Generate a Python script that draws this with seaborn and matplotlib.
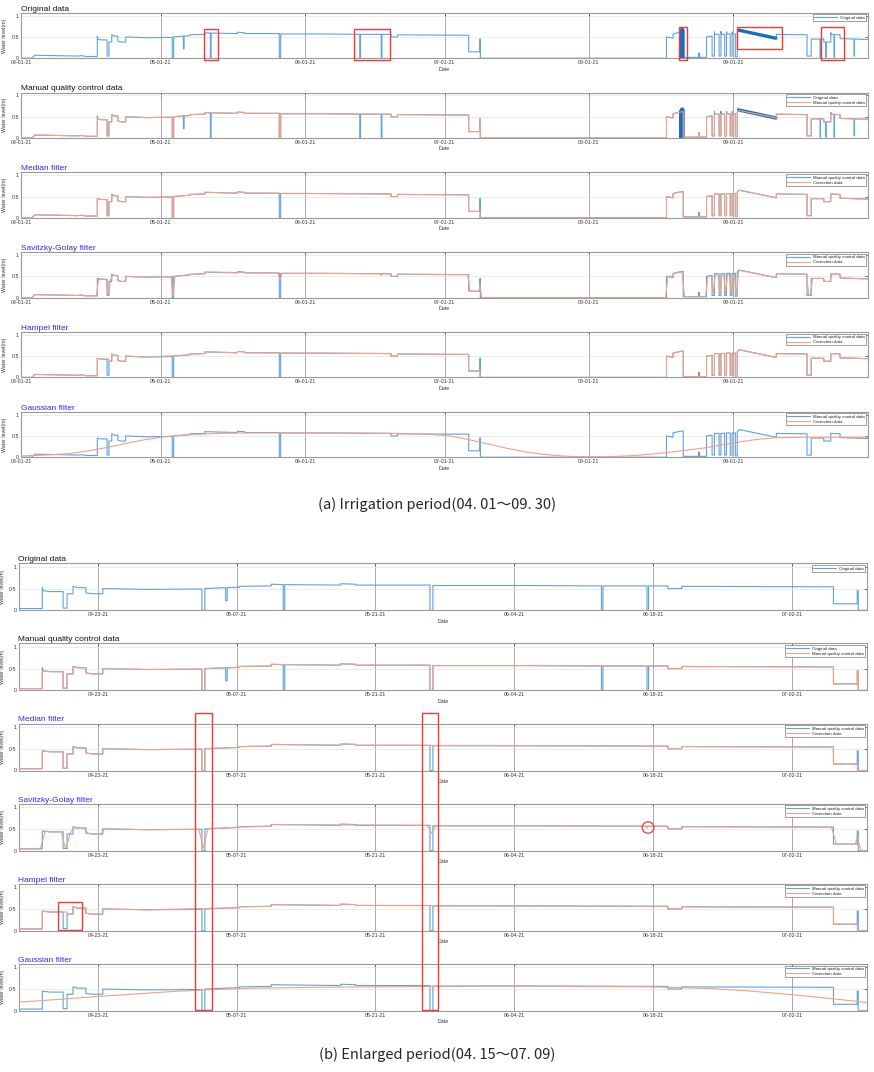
import numpy as np
import pandas as pd
import matplotlib
matplotlib.use("Agg")
import matplotlib.pyplot as plt
import matplotlib.dates as mdates
from matplotlib.patches import Rectangle, Ellipse
from matplotlib.transforms import blended_transform_factory
import seaborn as sns

sns.set_style("white")
plt.rcParams["font.family"] = ["Liberation Sans", "DejaVu Sans"]

START = pd.Timestamp("2021-04-01")

# ---------------- data (days since 2021-04-01, water level in m) ----------------
ORIG_T = [0, 2.3, 3.0, 8, 12, 13, 14, 16.4, 16.4, 16.5, 17.2, 18.5, 18.5, 18.9, 18.9, 19.5, 19.5, 20.0,
          20.8, 20.8, 21.5, 22.5, 22.5, 27, 32.5, 32.5, 32.8, 32.8, 34.9, 34.9, 35.05, 35.05, 36.3, 36.3,
          39.5, 39.5, 40.7, 40.7, 40.85, 40.85, 46.5, 46.5, 48, 48, 55.5, 55.5, 55.8, 55.8, 65, 72.8,
          72.8, 72.95, 72.95, 77.4, 77.4, 77.55, 77.55, 79.5, 79.5, 80.9, 80.9, 96.2, 96.2, 98.6, 98.6,
          98.7, 98.7, 138.7, 138.7, 140.1, 140.1, 141.2, 142.3, 142.3, 145.6, 145.6, 145.8, 145.8, 147.3,
          147.3, 148.5, 148.5, 149.0, 149.0, 149.1, 150.0, 150.0, 150.4, 150.4, 150.5, 151.2, 151.2,
          151.6, 151.6, 151.7, 152.4, 152.4, 152.8, 152.8, 152.9, 153.5, 153.5, 153.9, 153.9, 154.3,
          162.3, 162.3, 168.9, 168.9, 169.8, 169.8, 171.7, 171.7, 171.8, 171.8, 172.5, 172.5, 172.9,
          172.9, 173.0, 173.0, 174.0, 174.0, 174.2, 174.7, 174.7, 174.8, 174.8, 176.0, 176.0, 179.0,
          179.0, 179.1, 179.1, 182]
ORIG_V = [0.0, 0.0, 0.07, 0.06, 0.05, 0.06, 0.04, 0.04, 0.52, 0.45, 0.43, 0.43, 0.05, 0.05, 0.38, 0.38,
          0.55, 0.52, 0.52, 0.40, 0.38, 0.38, 0.50, 0.48, 0.49, 0.0, 0.0, 0.50, 0.52, 0.22, 0.22, 0.52,
          0.53, 0.55, 0.56, 0.60, 0.59, 0.0, 0.0, 0.59, 0.58, 0.61, 0.60, 0.58, 0.58, 0.0, 0.0, 0.57,
          0.57, 0.56, 0.0, 0.0, 0.56, 0.56, 0.0, 0.0, 0.56, 0.56, 0.50, 0.50, 0.55, 0.54, 0.15, 0.15,
          0.45, 0.45, 0.0, 0.0, 0.50, 0.47, 0.57, 0.60, 0.62, 0.02, 0.02, 0.12, 0.12, 0.02, 0.02, 0.50,
          0.52, 0.05, 0.05, 0.62, 0.56, 0.56, 0.05, 0.05, 0.63, 0.56, 0.56, 0.05, 0.05, 0.62, 0.57, 0.57,
          0.05, 0.05, 0.62, 0.57, 0.57, 0.03, 0.03, 0.60, 0.65, 0.47, 0.56, 0.55, 0.05, 0.05, 0.45, 0.45,
          0.02, 0.02, 0.45, 0.45, 0.38, 0.38, 0.02, 0.02, 0.38, 0.38, 0.60, 0.56, 0.56, 0.02, 0.02, 0.55,
          0.55, 0.46, 0.45, 0.05, 0.05, 0.45, 0.44]

# dense sensor-noise stretches of the original record
NOISE1_T = [141.6, 141.6, 141.8, 141.8, 142.2, 142.2, 142.4, 142.4]
NOISE1_V = [0.64, 0.0, 0.0, 0.68, 0.70, 0.0, 0.0, 0.66]
NOISE2_T = [154.2, 162.2]
NOISE2_V = [0.66, 0.47]

QC_T = [0, 2.3, 3.0, 8, 12, 13, 14, 16.4, 16.4, 17.2, 18.5, 18.5, 18.9, 18.9, 19.5, 19.5, 20.0, 20.8,
        20.8, 21.5, 22.5, 22.5, 27, 32.5, 32.5, 32.8, 32.8, 34.9, 36.3, 36.3, 39.5, 39.5, 46.5, 46.5,
        48, 48, 55.5, 55.5, 55.8, 55.8, 65, 79.5, 79.5, 80.9, 80.9, 96.2, 96.2, 98.6, 98.6, 98.7, 98.7,
        138.7, 138.7, 140.1, 140.1, 141.2, 142.3, 142.3, 145.6, 145.6, 145.8, 145.8, 147.3, 147.3,
        148.5, 148.5, 149.0, 149.0, 150.0, 150.0, 150.4, 150.4, 151.2, 151.2, 151.6, 151.6, 152.4,
        152.4, 152.8, 152.8, 153.5, 153.5, 153.9, 153.9, 154.3, 162.3, 162.3, 168.9, 168.9, 169.8,
        169.8, 172.5, 172.5, 174.0, 174.0, 176.0, 176.0, 182]
QC_V = [0.0, 0.0, 0.07, 0.06, 0.05, 0.06, 0.04, 0.04, 0.45, 0.43, 0.43, 0.05, 0.05, 0.38, 0.38, 0.55,
        0.52, 0.52, 0.40, 0.38, 0.38, 0.50, 0.48, 0.49, 0.0, 0.0, 0.50, 0.52, 0.53, 0.55, 0.56, 0.60,
        0.58, 0.61, 0.60, 0.58, 0.58, 0.0, 0.0, 0.57, 0.57, 0.56, 0.50, 0.50, 0.55, 0.54, 0.15, 0.15,
        0.45, 0.45, 0.0, 0.0, 0.50, 0.47, 0.57, 0.60, 0.62, 0.02, 0.02, 0.12, 0.12, 0.02, 0.02, 0.50,
        0.52, 0.05, 0.05, 0.56, 0.56, 0.05, 0.05, 0.56, 0.56, 0.05, 0.05, 0.57, 0.57, 0.05, 0.05, 0.57,
        0.57, 0.03, 0.03, 0.60, 0.65, 0.47, 0.56, 0.55, 0.05, 0.05, 0.45, 0.45, 0.38, 0.38, 0.56, 0.55,
        0.46, 0.44]

MED_T = [0, 2.3, 3.0, 8, 12, 13, 14, 16.4, 16.4, 17.2, 18.5, 18.5, 18.9, 18.9, 19.5, 19.5, 20.8,
         20.8, 21.5, 22.5, 22.5, 27, 32.5, 32.5, 32.8, 32.8, 34.9, 36.3, 36.3, 39.5, 39.5, 46.5, 46.5,
         48, 48, 65, 79.5, 79.5, 80.9, 80.9, 96.2, 96.2, 98.6, 98.6, 138.7, 138.7, 140.1, 140.1, 141.2,
         142.3, 142.3, 147.3, 147.3, 148.5, 148.5, 149.0, 149.0, 150.0, 150.0, 150.4, 150.4, 151.2,
         151.2, 151.6, 151.6, 152.4, 152.4, 152.8, 152.8, 153.5, 153.5, 153.9, 153.9, 154.3, 162.3,
         162.3, 168.9, 168.9, 169.8, 169.8, 172.5, 172.5, 174.0, 174.0, 176.0, 176.0, 182]
MED_V = [0.0, 0.0, 0.07, 0.06, 0.05, 0.06, 0.04, 0.04, 0.45, 0.43, 0.43, 0.05, 0.05, 0.38, 0.38, 0.52,
         0.52, 0.40, 0.38, 0.38, 0.50, 0.48, 0.49, 0.0, 0.0, 0.50, 0.52, 0.53, 0.55, 0.56, 0.60, 0.58,
         0.61, 0.60, 0.58, 0.57, 0.56, 0.50, 0.50, 0.55, 0.54, 0.15, 0.15, 0.0, 0.0, 0.50, 0.47, 0.57,
         0.60, 0.62, 0.02, 0.02, 0.50, 0.52, 0.05, 0.05, 0.56, 0.56, 0.05, 0.05, 0.56, 0.56, 0.05, 0.05,
         0.57, 0.57, 0.05, 0.05, 0.57, 0.57, 0.03, 0.03, 0.60, 0.65, 0.47, 0.56, 0.55, 0.05, 0.05, 0.45,
         0.45, 0.38, 0.38, 0.56, 0.55, 0.46, 0.44]

SG_T = [0, 2.3, 3.0, 8, 12, 13, 14, 16.2, 16.7, 17.2, 18.3, 18.7, 18.9, 19.2, 19.6, 20.6, 21.0, 21.5,
        22.3, 22.7, 27, 32.2, 32.65, 33.1, 34.9, 36.3, 39.3, 39.7, 46.5, 48, 55.2, 55.65, 56.1, 65,
        77.2, 77.4, 77.6, 79.3, 79.7, 80.7, 81.1, 96.0, 96.5, 98.4, 98.6, 99.0, 138.5, 139.0, 140.1,
        140.4, 142.0, 142.6, 147.1, 147.6, 148.3, 148.7, 149.2, 149.8, 150.2, 150.6, 151.0, 151.4,
        151.8, 152.2, 152.6, 153.0, 153.3, 153.7, 154.2, 154.5, 162.1, 162.5, 168.7, 169.3, 169.6,
        170.1, 172.3, 172.7, 173.8, 174.3, 175.8, 176.2, 182]
SG_V = [0.0, 0.0, 0.07, 0.06, 0.05, 0.06, 0.04, 0.04, 0.45, 0.43, 0.43, 0.08, 0.12, 0.40, 0.52, 0.52,
        0.40, 0.38, 0.38, 0.50, 0.48, 0.49, 0.05, 0.50, 0.52, 0.54, 0.56, 0.60, 0.59, 0.59, 0.58, 0.40,
        0.57, 0.57, 0.56, 0.52, 0.56, 0.56, 0.50, 0.50, 0.55, 0.54, 0.15, 0.15, 0.30, 0.0, 0.0, 0.50,
        0.50, 0.57, 0.60, 0.02, 0.02, 0.50, 0.50, 0.08, 0.54, 0.54, 0.08, 0.54, 0.54, 0.08, 0.55, 0.55,
        0.08, 0.55, 0.55, 0.03, 0.62, 0.64, 0.47, 0.56, 0.55, 0.06, 0.06, 0.45, 0.45, 0.38, 0.38, 0.56,
        0.55, 0.46, 0.44]

HAM_T = [0, 2.3, 3.0, 8, 12, 13, 14, 16.4, 16.4, 17.2, 18.9, 18.9, 19.5, 19.5, 20.0, 20.8, 20.8, 21.5,
         22.5, 22.5, 27, 34.9, 36.3, 36.3, 39.5, 39.5, 46.5, 46.5, 48, 48, 65, 79.5, 79.5, 80.9, 80.9,
         96.2, 96.2, 98.6, 98.6, 138.7, 138.7, 140.1, 140.1, 141.2, 142.3, 142.3, 147.3, 147.3, 148.5,
         148.5, 149.0, 149.0, 150.0, 150.0, 150.4, 150.4, 151.2, 151.2, 151.6, 151.6, 152.4, 152.4,
         152.8, 152.8, 153.5, 153.5, 153.9, 153.9, 154.3, 162.3, 162.3, 168.9, 168.9, 169.8, 169.8,
         172.5, 172.5, 174.0, 174.0, 176.0, 176.0, 182]
HAM_V = [0.0, 0.0, 0.07, 0.06, 0.05, 0.06, 0.04, 0.04, 0.45, 0.43, 0.43, 0.38, 0.38, 0.55, 0.52, 0.52,
         0.40, 0.38, 0.38, 0.50, 0.48, 0.52, 0.53, 0.55, 0.56, 0.60, 0.58, 0.61, 0.60, 0.58, 0.57, 0.56,
         0.50, 0.50, 0.55, 0.54, 0.15, 0.15, 0.0, 0.0, 0.50, 0.47, 0.57, 0.60, 0.62, 0.02, 0.02, 0.50,
         0.52, 0.05, 0.05, 0.56, 0.56, 0.05, 0.05, 0.56, 0.56, 0.05, 0.05, 0.57, 0.57, 0.05, 0.05, 0.57,
         0.57, 0.03, 0.03, 0.60, 0.65, 0.47, 0.56, 0.55, 0.05, 0.05, 0.45, 0.45, 0.38, 0.38, 0.56, 0.55,
         0.46, 0.44]

GAU_A_T = [0, 5, 10, 14, 18, 22, 26, 30, 35, 40, 47, 55, 62, 70, 80, 88, 92, 96, 100, 104, 108, 112,
           116, 120, 126, 132, 137, 142, 147, 151, 155, 159, 163, 168, 175, 182]
GAU_A_V = [0.03, 0.05, 0.08, 0.14, 0.22, 0.31, 0.40, 0.47, 0.52, 0.55, 0.57, 0.57, 0.57, 0.57, 0.56,
           0.54, 0.50, 0.42, 0.32, 0.22, 0.13, 0.07, 0.03, 0.01, 0.01, 0.04, 0.09, 0.15, 0.22, 0.30,
           0.37, 0.43, 0.46, 0.47, 0.47, 0.47]

GAU_B_T = [14, 18, 22, 26, 30, 34, 38, 44, 50, 56, 64, 72, 78, 84, 88, 92, 96, 99.6]
GAU_B_V = [0.20, 0.26, 0.33, 0.39, 0.45, 0.49, 0.52, 0.54, 0.55, 0.56, 0.57, 0.56, 0.55, 0.51, 0.45,
           0.37, 0.28, 0.19]

TITLES = ["Original data", "Manual quality control data", "Median filter",
          "Savitzky-Golay filter", "Hampel filter", "Gaussian filter"]
TICKS_A = ["2021-04-01", "2021-05-01", "2021-06-01", "2021-07-01", "2021-08-01", "2021-09-01"]
TICKS_B = ["2021-04-23", "2021-05-07", "2021-05-21", "2021-06-04", "2021-06-18", "2021-07-02"]
XLIM_A = ["2021-04-01", "2021-09-30"]
XLIM_B = ["2021-04-15", "2021-07-09 14:00"]
CAPTION_A = "(a) Irrigation period(04. 01～09. 30)"
CAPTION_B = "(b) Enlarged period(04. 15～07. 09)"

# highlight boxes (days since 04-01, value ranges)
BOX_A = [(39.4, 42.3, -0.04, 0.68), (71.6, 79.3, -0.04, 0.68), (141.4, 143.1, -0.04, 0.74),
         (153.9, 163.5, 0.21, 0.74), (171.8, 176.9, -0.04, 0.74)]
BOX_B_TALL = [(31.8, 33.5), (54.7, 56.3)]
BOX_B_HAMPEL = (18.0, 20.4, 0.02, 0.67)
CIRCLE_B_SG = (77.5, 0.53)

# ---------------- drawing ----------------
BLUE = "#5fa3da"
DBLUE = "#1c6cc0"
ORANGE = "#f2a183"
W, H = 874, 1072
fig = plt.figure(figsize=(W / 100, H / 100), dpi=100)


def d(days):
    return START + pd.to_timedelta(np.asarray(days, dtype=float), unit="D")


def line(ax, t, v, color, label=None, lw=0.8, z=2):
    sns.lineplot(x=d(t), y=np.asarray(v, float), ax=ax, estimator=None, sort=False,
                 color=color, lw=lw, label=label, zorder=z, legend=False)


def make_ax(left, top, right, height):
    return fig.add_axes([left / W, 1 - (top + height) / H, (right - left) / W, height / H])


def style(ax, title, color, ticks, xlim, ylim_top):
    ax.set_xlim(pd.Timestamp(xlim[0]), pd.Timestamp(xlim[1]))
    ax.set_ylim(0, ylim_top)
    ax.set_yticks([0, 0.5, 1])
    ax.set_yticklabels(["0", "0.5", "1"])
    ax.set_xticks([pd.Timestamp(t) for t in ticks])
    ax.xaxis.set_major_formatter(mdates.DateFormatter("%m-%d-%y"))
    ax.tick_params(labelsize=3.8, direction="in", length=2.5, width=0.6, colors="#555555",
                   labelcolor="#333333", top=True, right=True, pad=1.5)
    ax.grid(True, axis="x", color="#aaaaaa", lw=0.7)
    ax.grid(True, axis="y", color="#e4e4e4", lw=0.5)
    for s in ax.spines.values():
        s.set_color("#9a9a9a")
        s.set_linewidth(0.8)
    ax.set_xlabel("Date", fontsize=3.8, color="#333333", labelpad=1)
    ax.set_ylabel("Water level(m)", fontsize=3.8, color="#333333")
    ax.yaxis.set_label_coords(-0.016, 0.5)
    ax.set_title(title, loc="left", fontsize=6, color=color, pad=1.5)
    ax.legend(loc="upper right", fontsize=3.2, frameon=True, fancybox=False, edgecolor="#777777",
              framealpha=1, handlelength=5, borderpad=0.3, labelspacing=0.2, borderaxespad=0.4)
    ax.get_legend().get_frame().set_linewidth(0.5)


def draw_group(axes, gau_t, gau_v):
    # 1 original
    line(axes[0], ORIG_T, ORIG_V, BLUE, "Original data")
    line(axes[0], NOISE1_T, NOISE1_V, DBLUE, lw=1.4)
    line(axes[0], NOISE2_T, NOISE2_V, DBLUE, lw=2.4)
    # 2 manual QC
    line(axes[1], ORIG_T, ORIG_V, BLUE, "Original data")
    line(axes[1], NOISE1_T, NOISE1_V, DBLUE, lw=1.4)
    line(axes[1], NOISE2_T, NOISE2_V, DBLUE, lw=2.4)
    line(axes[1], QC_T, QC_V, ORANGE, "Manual quality control data", z=3)
    # filters
    for ax, (ct, cv) in zip(axes[2:], [(MED_T, MED_V), (SG_T, SG_V), (HAM_T, HAM_V), (gau_t, gau_v)]):
        line(ax, QC_T, QC_V, BLUE, "Manual quality control data")
        line(ax, ct, cv, ORANGE, "Correction data", z=3)


TITLE_COLORS = ["#111111", "#111111", "#2a2af0", "#2a2af0", "#2a2af0", "#2a2af0"]

axes_a = [make_ax(21, 12.7 + 79.8 * k, 868, 45.5) for k in range(6)]
draw_group(axes_a, GAU_A_T, GAU_A_V)
for k, ax in enumerate(axes_a):
    style(ax, TITLES[k], TITLE_COLORS[k], TICKS_A, XLIM_A, 1.07)

axes_b = [make_ax(18.5, 563.3 + 80.1 * k, 867, 47) for k in range(6)]
draw_group(axes_b, GAU_B_T, GAU_B_V)
for k, ax in enumerate(axes_b):
    style(ax, TITLES[k], TITLE_COLORS[k], TICKS_B, XLIM_B, 1.08)

RED = "#ee3b36"
# highlight boxes in (a) original panel
for x0, x1, y0, y1 in BOX_A:
    a0, a1 = mdates.date2num(d([x0, x1]))
    axes_a[0].add_patch(Rectangle((a0, y0), a1 - a0, y1 - y0, fill=False, ec=RED, lw=1.0,
                                  clip_on=False, zorder=10))

# tall boxes across the filter panels of (b), drawn on the figure above every axes
tr = blended_transform_factory(axes_b[2].transData, fig.transFigure)
for x0, x1 in BOX_B_TALL:
    a0, a1 = mdates.date2num(d([x0, x1]))
    fig.add_artist(Rectangle((a0, 1 - 1010 / H), a1 - a0, (1010 - 713) / H, fill=False, ec=RED,
                             lw=1.0, transform=tr, clip_on=False, zorder=20))

x0, x1, y0, y1 = BOX_B_HAMPEL
a0, a1 = mdates.date2num(d([x0, x1]))
axes_b[4].add_patch(Rectangle((a0, y0), a1 - a0, y1 - y0, fill=False, ec=RED, lw=1.0, zorder=10))

cx = mdates.date2num(d([CIRCLE_B_SG[0]]))[0]
axes_b[3].add_patch(Ellipse((cx, CIRCLE_B_SG[1]), 1.2, 0.26, fill=False, ec=RED, lw=0.9, zorder=10))

cap_font = ["Noto Sans CJK KR", "DejaVu Sans"]
fig.text(437 / W, 1 - 505 / H, CAPTION_A, ha="center", va="center", fontsize=10.5, family=cap_font)
fig.text(437 / W, 1 - 1055 / H, CAPTION_B, ha="center", va="center", fontsize=10.5, family=cap_font)

fig.savefig("out.png", dpi=100, facecolor="white")
